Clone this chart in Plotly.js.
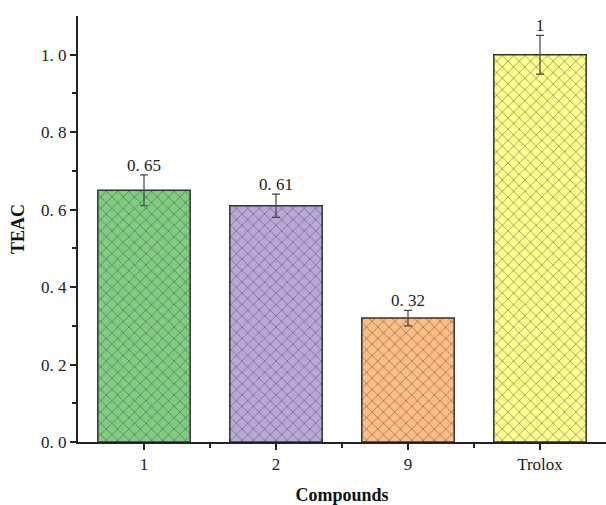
<!DOCTYPE html>
<html><head><meta charset="utf-8">
<script src="https://cdn.plot.ly/plotly-3.0.1.min.js"></script>
<style>html,body{margin:0;padding:0;background:#fff}#c{width:606px;height:505px}</style>
</head><body><div id="c"></div>
<script>
const categories = ["1", "2", "9", "Trolox"];
const values = [0.65, 0.61, 0.32, 1.0];
const errors = [0.04, 0.03, 0.02, 0.05];
const labels = ["0. 65", "0. 61", "0. 32", "1"];
const colors = ["#80CC80", "#B9A9D9", "#FFBC85", "#FFFF8F"];
const yTickVals = [0, 0.2, 0.4, 0.6, 0.8, 1.0];
const yTickText = ["0. 0", "0. 2", "0. 4", "0. 6", "0. 8", "1. 0"];

const xs = categories.map((c, i) => i);
const tickFont = {family: "Liberation Serif, serif", size: 17, color: "#222"};

const bars = {
  type: "bar", x: xs, y: values, width: 0.7,
  marker: {
    color: colors,
    line: {color: "#333", width: 1.5},
    pattern: {shape: "x", fgcolor: "#1a1a1a", bgcolor: colors, size: 8, solidity: 0.22, fillmode: "overlay"}
  },
  error_y: {type: "data", array: errors, visible: true, color: "#444", thickness: 1.2, width: 4},
  hoverinfo: "none", showlegend: false
};
const txt = {
  type: "scatter", mode: "text", x: xs, y: values.map((v, i) => v + errors[i]),
  text: labels, textposition: "top center", textfont: tickFont,
  cliponaxis: false, hoverinfo: "none", showlegend: false
};

const layout = {
  width: 606, height: 505,
  margin: {l: 78, r: 0, t: 16, b: 63},
  paper_bgcolor: "#fff", plot_bgcolor: "#fff",
  xaxis: {
    range: [-0.5, 3.5], tickvals: xs, ticktext: categories,
    showgrid: false, zeroline: false, showline: true, linecolor: "#222", linewidth: 2,
    ticks: "outside", ticklen: 6, tickwidth: 2, tickcolor: "#222", tickfont: tickFont,
    minor: {tickvals: [0.5, 1.5, 2.5], ticks: "outside", ticklen: 4, tickwidth: 2, tickcolor: "#222", showgrid: false},
    title: {text: "<b>Compounds</b>", font: {family: "Liberation Serif, serif", size: 18, color: "#111"}, standoff: 16}
  },
  yaxis: {
    range: [0, 1.1], tickvals: yTickVals, ticktext: yTickText,
    showgrid: false, zeroline: false, showline: true, linecolor: "#222", linewidth: 2,
    ticks: "outside", ticklen: 6, tickwidth: 2, tickcolor: "#222", tickfont: tickFont,
    minor: {tickvals: [0.1, 0.3, 0.5, 0.7, 0.9], ticks: "outside", ticklen: 4, tickwidth: 2, tickcolor: "#222", showgrid: false},
    title: {text: "<b>TEAC</b>", font: {family: "Liberation Serif, serif", size: 18, color: "#111"}, standoff: 12}
  }
};
Plotly.newPlot("c", [bars, txt], layout, {displayModeBar: false, staticPlot: true});
</script></body></html>
